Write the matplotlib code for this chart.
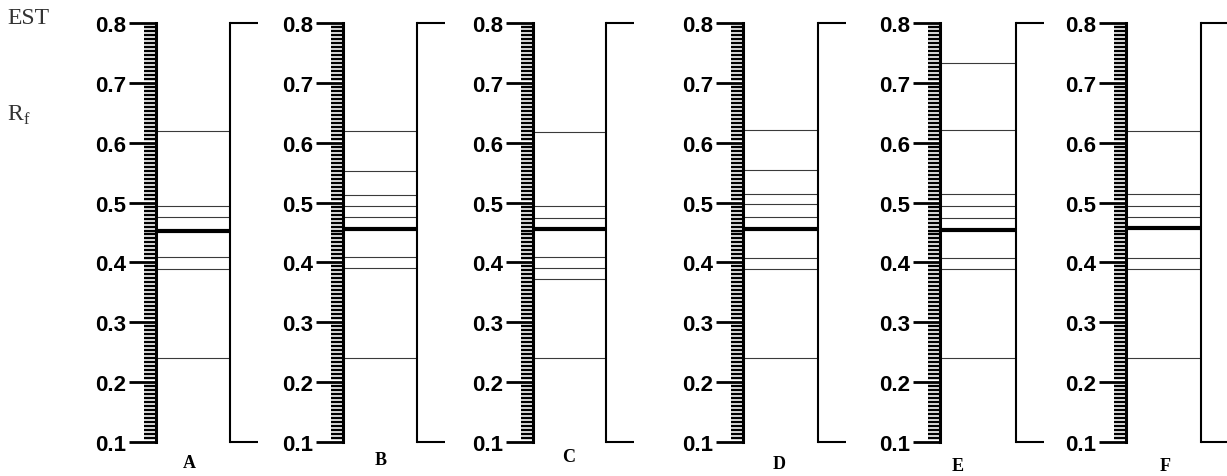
import matplotlib
matplotlib.use('Agg')
import matplotlib.pyplot as plt
from matplotlib.ticker import MultipleLocator

# Rf values
lanes = ['A', 'B', 'C', 'D', 'E', 'F']
thin_A = [0.62, 0.495, 0.476, 0.409, 0.389, 0.24]
thin_B = [0.62, 0.553, 0.512, 0.495, 0.476, 0.409, 0.391, 0.24]
thin_C = [0.618, 0.495, 0.475, 0.409, 0.39, 0.373, 0.24]
thin_D = [0.621, 0.554, 0.515, 0.497, 0.476, 0.408, 0.389, 0.24]
thin_E = [0.734, 0.622, 0.515, 0.495, 0.474, 0.408, 0.389, 0.24]
thin_F = [0.62, 0.514, 0.495, 0.476, 0.408, 0.389, 0.24]
thick = [0.453, 0.456, 0.456, 0.456, 0.454, 0.458]
yticks = [0.1, 0.2, 0.3, 0.4, 0.5, 0.6, 0.7, 0.8]

# -----------------------------------------------------------------------------------------
W, H = 1227, 477
spine_x = [156, 343, 533, 743, 940, 1126]
right_x = [230, 417, 606, 818, 1016, 1201]
lab_xy = [(189, 464), (381, 461), (569, 458), (779, 465), (958, 467), (1165, 467)]
Y_TOP, Y_BOT = 24, 443
EXT = 28
# -----------------------------------------------------------------------------------------

fig = plt.figure(figsize=(W / 100, H / 100), dpi=100)
thins = [thin_A, thin_B, thin_C, thin_D, thin_E, thin_F]

for i, lane in enumerate(lanes):
    x0, x1 = spine_x[i], right_x[i]
    ax = fig.add_axes([x0 / W, (H - Y_BOT) / H, (x1 - x0) / W, (Y_BOT - Y_TOP) / H])
    ax.set_xlim(0, 1)
    ax.set_ylim(0.1, 0.8)
    for s in ['top', 'bottom']:
        ax.spines[s].set_visible(False)
    ax.spines['left'].set_linewidth(2.2)
    ax.spines['right'].set_linewidth(1.5)
    ax.set_xticks([])
    ax.set_yticks(yticks)
    ax.set_yticklabels(['%.1f' % v for v in yticks])
    ax.yaxis.set_minor_locator(MultipleLocator(0.1 / 15))
    ax.tick_params(axis='y', which='major', length=19.5, width=2.0, pad=2,
                   labelsize=16, direction='out')
    ax.tick_params(axis='y', which='minor', length=8.6, width=1.7, direction='out')
    for lbl in ax.get_yticklabels():
        lbl.set_fontweight('bold')
        lbl.set_family('Liberation Sans')
    # bracket ends on the right
    ext = EXT / (x1 - x0)
    ax.plot([1, 1 + ext], [0.8, 0.8], color='black', lw=1.5, clip_on=False,
            solid_capstyle='butt')
    ax.plot([1, 1 + ext], [0.1, 0.1], color='black', lw=1.5, clip_on=False,
            solid_capstyle='butt')
    # spots
    ax.hlines(thins[i], 0, 1, color='#3a3a3a', lw=0.8)
    ax.hlines(thick[i], 0, 1, color='black', lw=3.0)
    lx, ly = lab_xy[i]
    fig.text(lx / W, 1 - ly / H, lane, ha='center', va='center', fontsize=13,
             fontweight='bold', family='Liberation Serif')

fig.text(7 / W, 1 - 18 / H, 'EST', ha='left', va='center', fontsize=17,
         family='Liberation Serif', color='#333333')
fig.text(7 / W, 1 - 115 / H, r'R$_{\mathregular{f}}$', ha='left', va='center',
         fontsize=17, family='Liberation Serif', color='#333333')

fig.savefig('out.png', dpi=100)
